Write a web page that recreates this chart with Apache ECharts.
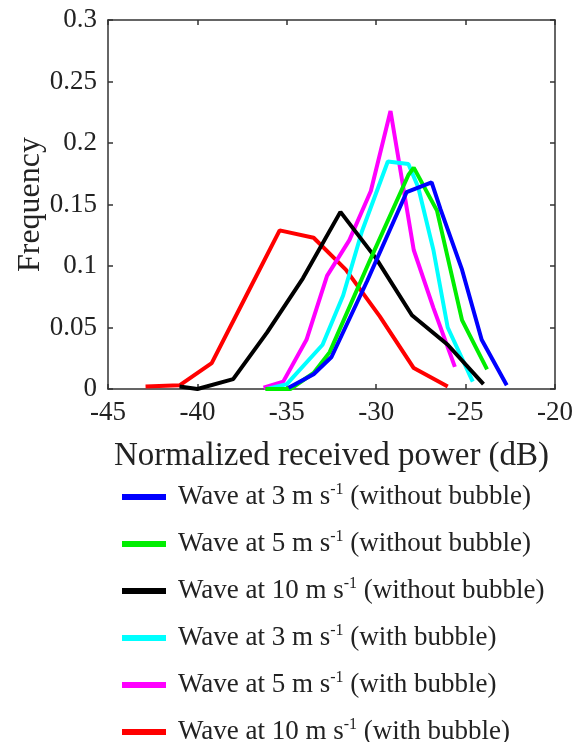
<!DOCTYPE html>
<html>
<head>
<meta charset="utf-8">
<script src="https://cdn.jsdelivr.net/npm/echarts@6/dist/echarts.min.js"></script>
<style>
html,body{margin:0;padding:0;background:#fff;}
#c{width:587px;height:742px;}
</style>
</head>
<body>
<div id="c"></div>
<script>
// ---- data ----
var xTicks = [-45, -40, -35, -30, -25, -20];
var yTicks = [0, 0.05, 0.1, 0.15, 0.2, 0.25, 0.3];

var blueX = [-34.9, -33.5, -32.5, -30.5, -28.3, -26.9, -26.4, -25.2, -24.1, -22.7];
var blueY = [0.001, 0.012, 0.026, 0.088, 0.160, 0.168, 0.146, 0.097, 0.040, 0.003];

var greenX = [-36.2, -34.8, -33.5, -32.6, -30.4, -28.2, -27.9, -26.6, -25.2, -23.8];
var greenY = [0.000, 0.000, 0.013, 0.030, 0.103, 0.174, 0.180, 0.145, 0.056, 0.016];

var blackX = [-41.0, -40.0, -38.0, -36.1, -34.1, -32.0, -30.0, -28.0, -26.0, -24.0];
var blackY = [0.002, 0.000, 0.008, 0.046, 0.090, 0.144, 0.106, 0.060, 0.036, 0.004];

var cyanX = [-36.1, -35.0, -33.0, -31.85, -30.8, -29.35, -28.2, -27.65, -26.8, -26.0, -24.6];
var cyanY = [0.000, 0.004, 0.036, 0.076, 0.128, 0.185, 0.183, 0.164, 0.113, 0.050, 0.006];

var magentaX = [-36.3, -35.2, -33.9, -32.75, -31.5, -30.3, -29.2, -27.9, -26.8, -25.6];
var magentaY = [0.001, 0.006, 0.040, 0.092, 0.121, 0.161, 0.226, 0.113, 0.066, 0.018];

var redX = [-42.9, -41.0, -39.2, -37.3, -35.4, -33.5, -31.7, -29.8, -27.9, -26.0];
var redY = [0.002, 0.003, 0.021, 0.075, 0.129, 0.123, 0.097, 0.059, 0.017, 0.002];

var seriesNames = [
  'Wave at 3 m s{sup|-1} (without bubble)',
  'Wave at 5 m s{sup|-1} (without bubble)',
  'Wave at 10 m s{sup|-1} (without bubble)',
  'Wave at 3 m s{sup|-1} (with bubble)',
  'Wave at 5 m s{sup|-1} (with bubble)',
  'Wave at 10 m s{sup|-1} (with bubble)'
];
var seriesColors = ['#0000ff', '#00ee00', '#000000', '#00ffff', '#ff00ff', '#ff0000'];
var seriesX = [blueX, greenX, blackX, cyanX, magentaX, redX];
var seriesY = [blueY, greenY, blackY, cyanY, magentaY, redY];

function pairs(xs, ys) {
  var out = [];
  for (var i = 0; i < xs.length; i++) out.push([xs[i], ys[i]]);
  return out;
}

var FONT = '"Liberation Serif","Times New Roman",serif';
var TXT = '#222';
var AX = '#333';

var series = seriesNames.map(function (n, i) {
  return {
    name: n,
    type: 'line',
    data: pairs(seriesX[i], seriesY[i]),
    showSymbol: false,
    symbol: 'none',
    lineStyle: { color: seriesColors[i], width: 4 },
    itemStyle: { color: seriesColors[i] },
    z: 10 - i,
    animation: false
  };
});

var chart = echarts.init(document.getElementById('c'), null, { renderer: 'canvas' });
chart.setOption({
  animation: false,
  backgroundColor: '#fff',
  grid: { left: 108, right: 32, top: 20, bottom: 353, containLabel: false },
  legend: {
    orient: 'vertical',
    left: 117,
    top: 477,
    width: 460,
    height: 300,
    itemWidth: 44,
    itemHeight: 6,
    itemGap: 17,
    icon: 'rect',
    data: seriesNames,
    textStyle: {
      fontFamily: FONT, fontSize: 27, color: TXT, padding: [0, 0, 0, 7],
      lineHeight: 30,
      rich: { sup: { fontFamily: FONT, fontSize: 16, verticalAlign: 'top', lineHeight: 30, padding: [0, 0, 12, 0], color: TXT } }
    }
  },
  xAxis: [{
    type: 'value', min: -45, max: -20, interval: 5, position: 'bottom',
    name: 'Normalized received power (dB)', nameLocation: 'middle', nameGap: 51,
    nameTextStyle: { fontFamily: FONT, fontSize: 33, color: TXT },
    axisLine: { show: true, onZero: false, lineStyle: { color: AX, width: 1.5 } },
    axisTick: { show: true, inside: true, length: 5, lineStyle: { color: AX, width: 1.5 } },
    axisLabel: { fontFamily: FONT, fontSize: 27, color: TXT, margin: 10,
      formatter: function (v) { return xTicks.indexOf(v) >= 0 ? String(v) : ''; } },
    splitLine: { show: false }
  }, {
    type: 'value', min: -45, max: -20, interval: 5, position: 'top',
    axisLine: { show: true, onZero: false, lineStyle: { color: AX, width: 1.5 } },
    axisTick: { show: true, inside: true, length: 5, lineStyle: { color: AX, width: 1.5 } },
    axisLabel: { show: false }, splitLine: { show: false }
  }],
  yAxis: [{
    type: 'value', min: 0, max: 0.3, interval: 0.05, position: 'left',
    name: 'Frequency', nameLocation: 'middle', nameGap: 61, nameRotate: 90,
    nameMoveOverlap: false,
    nameTextStyle: { fontFamily: FONT, fontSize: 32, color: TXT },
    axisLine: { show: true, onZero: false, lineStyle: { color: AX, width: 1.5 } },
    axisTick: { show: true, inside: true, length: 5, lineStyle: { color: AX, width: 1.5 } },
    axisLabel: { fontFamily: FONT, fontSize: 27, color: TXT, margin: 11,
      formatter: function (v) {
        for (var i = 0; i < yTicks.length; i++) if (Math.abs(yTicks[i] - v) < 1e-9) return String(yTicks[i]);
        return '';
      } },
    splitLine: { show: false }
  }, {
    type: 'value', min: 0, max: 0.3, interval: 0.05, position: 'right',
    axisLine: { show: true, onZero: false, lineStyle: { color: AX, width: 1.5 } },
    axisTick: { show: true, inside: true, length: 5, lineStyle: { color: AX, width: 1.5 } },
    axisLabel: { show: false }, splitLine: { show: false }
  }],
  series: series
});
</script>
</body>
</html>
